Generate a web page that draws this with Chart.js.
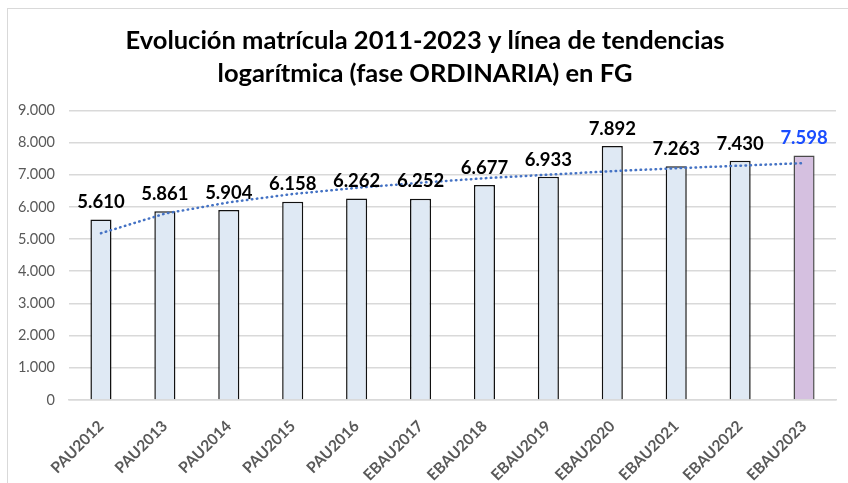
<!DOCTYPE html>
<html>
<head>
<meta charset="utf-8">
<script src="https://cdn.jsdelivr.net/npm/chart.js"></script>
<style>
    html, body { margin: 0; padding: 0; background: #fff; }
    #wrap { position: relative; width: 848px; height: 483px; overflow: hidden; }
    #frame { position: absolute; left: 7px; top: 8px; width: 900px; height: 600px; border: 1.5px solid #d9d9d9; }
    canvas { position: absolute; left: 0; top: 0; }
</style>
</head>
<body>
<div id="wrap">
    <div id="frame"></div>
    <canvas id="chart" width="848" height="483"></canvas>
</div>
<script>
const categories = ["PAU2012", "PAU2013", "PAU2014", "PAU2015", "PAU2016", "EBAU2017",
    "EBAU2018", "EBAU2019", "EBAU2020", "EBAU2021", "EBAU2022", "EBAU2023"];
const matricula = [5610, 5861, 5904, 6158, 6262, 6252, 6677, 6933, 7892, 7263, 7430, 7598];
// tendencia logaritmica
const tendencia = [5180, 5790, 6140, 6400, 6590, 6750, 6890, 7000, 7110, 7200, 7280, 7360];
const yTicks = [0, 1000, 2000, 3000, 4000, 5000, 6000, 7000, 8000, 9000];

const barColors = matricula.map((v, i) => i === matricula.length - 1 ? "#d5c0e0" : "#dfe9f4");
const barBorders = matricula.map((v, i) => i === matricula.length - 1 ? "#4a4a4a" : "#111111");
const labelColors = matricula.map((v, i) => i === matricula.length - 1 ? "#1a4dff" : "#000000");

const fmt = n => n.toString().replace(/\B(?=(\d{3})+(?!\d))/g, ".");

const barLabels = {
    id: "barLabels",
    afterDatasetsDraw(chart) {
        const ctx = chart.ctx;
        const meta = chart.getDatasetMeta(1);
        ctx.save();
        ctx.font = "bold 18.5px Lato";
        ctx.textAlign = "center";
        ctx.textBaseline = "bottom";
        meta.data.forEach((bar, i) => {
            ctx.fillStyle = labelColors[i];
            ctx.fillText(fmt(matricula[i]), bar.x, bar.y - 8);
        });
        ctx.restore();
    }
};

new Chart(document.getElementById("chart"), {
    data: {
        labels: categories,
        datasets: [
            {
                type: "line",
                data: tendencia,
                borderColor: "#4472c4",
                borderWidth: 2.5,
                borderDash: [0.5, 4.5],
                borderCapStyle: "round",
                pointRadius: 0,
                fill: false,
                order: 0
            },
            {
                type: "bar",
                data: matricula,
                backgroundColor: barColors,
                borderColor: barBorders,
                borderWidth: 1.5,
                barPercentage: 0.33,
                categoryPercentage: 1,
                order: 1
            }
        ]
    },
    options: {
        responsive: false,
        animation: false,
        layout: { padding: { left: 14, right: 12, top: 0, bottom: 0 } },
        plugins: {
            legend: { display: false },
            tooltip: { enabled: false },
            title: {
                display: true,
                text: ["Evolución matrícula 2011-2023 y línea de tendencias", "logarítmica (fase ORDINARIA) en FG"],
                color: "#000",
                font: { family: "Lato", size: 25.5, weight: "bold", lineHeight: 1.3 },
                padding: { top: 24, bottom: 20 }
            }
        },
        scales: {
            x: {
                grid: { display: false },
                border: { color: "#d9d9d9", width: 1.5 },
                afterFit: s => { s.paddingLeft = 0; s.paddingRight = 0; s.height = 83; },
                ticks: {
                    color: "#595959",
                    font: { family: "Lato", size: 15.5, weight: "bold" },
                    maxRotation: 45,
                    minRotation: 45,
                    padding: 9
                }
            },
            y: {
                min: 0,
                max: 9000,
                afterBuildTicks: axis => { axis.ticks = yTicks.map(v => ({ value: v })); },
                afterFit: s => { s.width = 55; },
                grid: { color: "#d9d9d9", lineWidth: 1.5, drawTicks: false },
                border: { display: false },
                ticks: {
                    color: "#595959",
                    font: { family: "Lato", size: 14.5 },
                    padding: 14,
                    callback: v => fmt(v)
                }
            }
        }
    },
    plugins: [barLabels]
});
</script>
</body>
</html>
